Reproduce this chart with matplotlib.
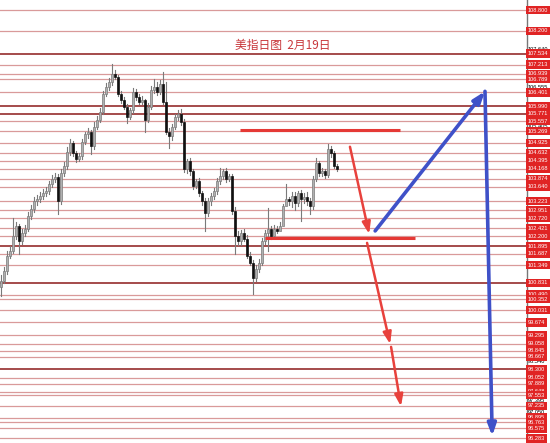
import matplotlib
matplotlib.use("Agg")
import matplotlib.pyplot as plt
from matplotlib.patches import Rectangle

plt.rcParams['font.family'] = ['Noto Sans CJK SC', 'DejaVu Sans']

# Daily USD index candles (open, high, low, close)
opens = [100.70, 100.90, 101.19, 101.63, 101.77, 102.21, 102.50, 102.06, 102.29, 102.41,
         102.79, 102.99, 103.22, 103.28, 103.37, 103.45, 103.51, 103.71, 103.86, 103.92,
         103.22, 104.04, 104.24, 104.67, 104.91, 104.62, 104.44, 104.53, 104.96, 105.17,
         105.25, 104.82, 105.40, 105.60, 105.84, 106.36, 106.56, 106.71, 106.94, 106.85,
         106.36, 106.18, 105.98, 105.69, 105.89, 106.42, 106.27, 106.13, 106.18, 105.60,
         105.98, 106.47, 106.56, 106.42, 106.65, 106.13, 105.25, 105.11, 105.40, 105.69,
         105.78, 105.54, 104.15, 104.38, 104.09, 103.66, 103.80, 103.45, 103.22, 102.87,
         103.22, 103.37, 103.51, 103.80, 103.95, 104.09, 103.86, 103.95, 102.93, 102.21,
         102.06, 102.29, 102.12, 101.63, 101.42, 100.96, 101.25, 101.42, 102.06, 102.29,
         102.41, 102.21, 102.41, 102.35, 102.50, 103.08, 103.28, 103.22, 103.37, 103.16,
         103.45, 103.28, 103.34, 103.22, 103.08, 103.86, 104.33, 104.04, 104.09, 103.98,
         104.73, 104.62, 104.24]
highs = [101.05, 101.30, 101.75, 101.90, 102.73, 102.62, 102.55, 102.40, 102.52, 102.90,
         103.10, 103.35, 103.40, 103.50, 103.58, 103.62, 103.82, 103.98, 104.05, 104.00,
         104.15, 104.35, 104.80, 105.05, 104.98, 104.70, 104.62, 105.05, 105.25, 105.35,
         105.30, 105.52, 105.70, 105.95, 106.45, 106.66, 106.82, 107.23, 107.05, 106.92,
         106.45, 106.25, 106.05, 105.95, 106.52, 106.50, 106.35, 106.28, 106.22, 106.08,
         106.58, 106.79, 106.70, 106.75, 107.00, 106.70, 105.35, 105.48, 105.78, 105.88,
         105.90, 105.62, 104.45, 104.48, 104.15, 103.88, 103.90, 103.52, 103.30, 103.32,
         103.45, 103.60, 103.90, 104.18, 104.15, 104.18, 104.00, 104.02, 103.05, 102.35,
         102.38, 102.40, 102.22, 101.72, 101.50, 101.35, 101.52, 102.15, 102.38, 103.02,
         102.50, 102.52, 102.48, 102.60, 103.15, 103.71, 103.35, 103.48, 103.48, 103.52,
         103.55, 103.45, 103.48, 103.30, 103.95, 104.47, 104.40, 104.18, 104.15, 104.88,
         104.82, 104.70, 104.30]
lows = [100.46, 100.82, 101.10, 101.55, 101.70, 102.12, 101.68, 101.98, 102.20, 102.35,
        102.70, 102.90, 103.12, 103.20, 103.28, 103.38, 103.42, 103.62, 103.78, 102.85,
        103.15, 103.96, 104.15, 104.58, 104.55, 104.36, 104.38, 104.45, 104.88, 105.08,
        104.59, 104.75, 105.32, 105.52, 105.76, 106.28, 106.48, 106.62, 106.78, 106.28,
        106.08, 105.90, 105.49, 105.62, 105.80, 106.18, 106.05, 106.05, 105.25, 105.52,
        105.90, 106.38, 106.32, 106.35, 106.05, 105.18, 104.76, 105.02, 105.32, 105.60,
        105.45, 104.08, 104.05, 103.98, 103.58, 103.60, 103.38, 103.12, 102.35, 102.80,
        103.12, 103.28, 103.42, 103.72, 103.88, 103.78, 103.80, 102.85, 101.68, 101.95,
        101.95, 102.05, 101.55, 101.35, 100.52, 100.88, 101.15, 101.35, 101.98, 101.77,
        102.12, 102.15, 102.28, 102.40, 102.98, 103.10, 103.12, 103.06, 102.95, 103.08,
        102.64, 103.18, 103.12, 102.85, 102.98, 103.80, 103.95, 103.95, 103.90, 103.92,
        104.50, 104.18, 104.10]
closes = [100.90, 101.19, 101.63, 101.77, 102.21, 102.50, 102.06, 102.29, 102.41, 102.79,
          102.99, 103.22, 103.28, 103.37, 103.45, 103.51, 103.71, 103.86, 103.92, 103.22,
          104.04, 104.24, 104.67, 104.91, 104.62, 104.44, 104.53, 104.96, 105.17, 105.25,
          104.82, 105.40, 105.60, 105.84, 106.36, 106.56, 106.71, 106.94, 106.85, 106.36,
          106.18, 105.98, 105.69, 105.89, 106.42, 106.27, 106.13, 106.18, 105.60, 105.98,
          106.47, 106.56, 106.42, 106.65, 106.13, 105.25, 105.11, 105.40, 105.69, 105.78,
          105.54, 104.15, 104.38, 104.09, 103.66, 103.80, 103.45, 103.22, 102.87, 103.22,
          103.37, 103.51, 103.80, 103.95, 104.09, 103.86, 103.95, 102.93, 102.21, 102.06,
          102.29, 102.12, 101.63, 101.42, 100.96, 101.25, 101.42, 102.06, 102.29, 102.41,
          102.21, 102.41, 102.35, 102.50, 103.08, 103.28, 103.22, 103.37, 103.16, 103.45,
          103.28, 103.34, 103.22, 103.08, 103.86, 104.33, 104.04, 104.09, 103.98, 104.73,
          104.62, 104.24, 104.15]

# Support / resistance levels drawn as horizontal lines with price tags
levels = [108.800, 108.200, 107.534, 107.213, 106.939, 106.789, 106.401, 105.990,
          105.771, 105.557, 105.269, 104.925, 104.632, 104.395, 104.168, 103.874,
          103.640, 103.223, 102.951, 102.720, 102.421, 102.200, 101.895, 101.687,
          101.349, 100.831, 100.490, 100.352, 100.031, 99.674, 99.295, 99.058,
          98.845, 98.667, 98.300, 98.052, 97.889, 97.648, 97.553, 97.235,
          96.895, 96.763, 96.575, 96.283]
strong_levels = [107.534, 105.990, 105.771, 101.895, 100.831, 98.300]

# Scale ticks of the price axis
scale_ticks = [107.640, 106.555, 105.405, 99.955, 98.540, 97.395, 97.050]

# Drawn objects: horizontal zones and forecast arrows, as (bar index, price)
zone_lines = [((79.7, 105.30), (133.0, 105.30)), ((88.0, 102.14), (138.0, 102.14))]
red_arrows = [((116.3, 104.81), (122.7, 102.26)),
              ((122.0, 102.00), (129.7, 99.04)),
              ((130.0, 98.96), (133.3, 97.22))]
blue_arrows = [((124.7, 102.35), (161.3, 106.43)),
               ((161.3, 106.43), (163.7, 96.35))]

title = "美指日图  2月19日"

fig = plt.figure(figsize=(5.5, 4.43), dpi=100)
ax = fig.add_axes([0, 0, 527 / 550, 1])
ax.set_xlim(-0.33, 175.3)
ax.set_ylim(96.15, 109.10)
ax.set_facecolor("white")
for s in ["top", "bottom", "left"]:
    ax.spines[s].set_visible(False)
ax.spines["right"].set_color("#777777")
ax.spines["right"].set_linewidth(1.0)
ax.set_xticks([])
ax.set_yticks([])

# level lines
for lv in levels:
    strong = lv in strong_levels
    ax.axhline(lv, color="#8b1a1a" if strong else "#d99a9a",
               lw=1.1 if strong else 0.9, zorder=1)

# candles
for i, (o, h, l, c) in enumerate(zip(opens, highs, lows, closes)):
    ax.plot([i, i], [l, h], color="#7a7a7a", lw=0.8, zorder=3)
    bull = c >= o
    lo_b, hi_b = min(o, c), max(o, c)
    ax.add_patch(Rectangle((i - 0.38, lo_b), 0.76, max(hi_b - lo_b, 0.02),
                           facecolor="#b0b0b0" if bull else "#111111",
                           edgecolor="#7a7a7a" if bull else "#111111",
                           lw=0.5, zorder=4))

# horizontal zones
for (x0, y0), (x1, y1) in zone_lines:
    ax.plot([x0, x1], [y0, y1], color="#e53935", lw=2.2, zorder=5,
            solid_capstyle="butt")

# forecast arrows
for (x0, y0), (x1, y1) in red_arrows:
    ax.annotate("", xy=(x1, y1), xytext=(x0, y0),
                arrowprops=dict(arrowstyle="-|>,head_length=0.7,head_width=0.25",
                                color="#e8413c", lw=1.8, shrinkA=0, shrinkB=0),
                zorder=6)
for (x0, y0), (x1, y1) in blue_arrows:
    ax.annotate("", xy=(x1, y1), xytext=(x0, y0),
                arrowprops=dict(arrowstyle="-|>,head_length=0.7,head_width=0.25",
                                color="#3f51c8", lw=2.6, shrinkA=0, shrinkB=0),
                zorder=6)

ax.text(0.537, 0.898, title, transform=ax.transAxes, ha="center", va="center",
        fontsize=8.5, color="#c8363a", zorder=7)

# price axis: scale ticks and level tags
tag_x = 1.002
for v in scale_ticks:
    ax.text(tag_x, v, f"{v:.3f}", transform=ax.get_yaxis_transform(),
            ha="left", va="center", fontsize=4.1, color="black",
            family="Liberation Sans", clip_on=False, zorder=8)
for lv in levels:
    ax.text(tag_x, lv, f"{lv:.3f}", transform=ax.get_yaxis_transform(),
            ha="left", va="center", fontsize=4.1, color="white",
            family="Liberation Sans", clip_on=False, zorder=9,
            bbox=dict(boxstyle="square,pad=0.3", facecolor="#e02424",
                      edgecolor="none"))

fig.savefig("out.png", dpi=100)
